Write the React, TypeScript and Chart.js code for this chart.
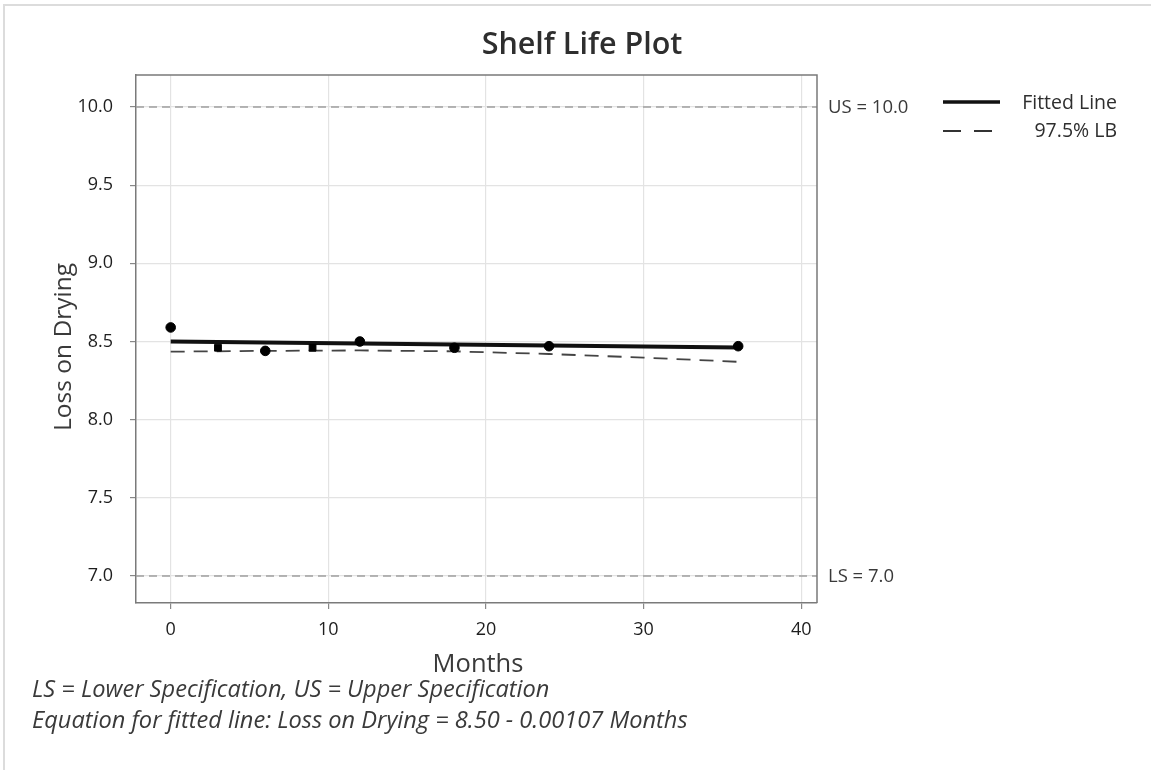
import React, { useEffect, useRef } from "react";
import { Chart, registerables } from "chart.js";

Chart.register(...registerables);

const months = [0, 3, 6, 9, 12, 18, 24, 36];
const lossOnDrying = [8.59, 8.46, 8.44, 8.46, 8.5, 8.46, 8.47, 8.47];
const pointStyles = ["circle", "rect", "circle", "rect", "circle", "circle", "circle", "circle"];
const fitMonths = [0, 36];
const fitValues = [8.5, 8.4615];
const lbMonths = [0, 6, 12, 18, 24, 30, 36];
const lbValues = [8.435, 8.44, 8.443, 8.437, 8.42, 8.397, 8.37];
const upperSpec = 10.0;
const lowerSpec = 7.0;
const xTicks = [0, 10, 20, 30, 40];
const yTicks = [7.0, 7.5, 8.0, 8.5, 9.0, 9.5, 10.0];
const titleText = "Shelf Life Plot";
const xTitle = "Months";
const yTitle = "Loss on Drying";
const legendLabels = ["Fitted Line", "97.5% LB"];
const footnotes = [
  "LS = Lower Specification, US = Upper Specification",
  "Equation for fitted line: Loss on Drying = 8.50 - 0.00107 Months",
];

const FONT = "'Open Sans', 'Noto Sans', sans-serif";

const overlay = {
  id: "overlay",
  afterDraw(chart: any) {
    const ctx = chart.ctx;
    const area = chart.chartArea;
    const y = chart.scales.y;
    ctx.save();
    // frame
    ctx.strokeStyle = "#dcdcdc";
    ctx.lineWidth = 2;
    ctx.beginPath();
    ctx.moveTo(4, 770);
    ctx.lineTo(4, 5);
    ctx.lineTo(1151, 5);
    ctx.stroke();
    // title
    ctx.fillStyle = "#2e2e2e";
    ctx.font = `600 30.5px ${FONT}`;
    ctx.textAlign = "center";
    ctx.textBaseline = "middle";
    ctx.fillText(titleText, 582, 45);
    // axis titles
    ctx.font = `25.5px ${FONT}`;
    ctx.fillStyle = "#3a3a3a";
    ctx.fillText(xTitle, 478, 665);
    ctx.save();
    ctx.translate(64, (area.top + area.bottom) / 2 + 8);
    ctx.rotate(-Math.PI / 2);
    ctx.font = `24.5px ${FONT}`;
    ctx.fillText(yTitle, 0, 0);
    ctx.restore();
    // spec labels
    ctx.font = `18.5px ${FONT}`;
    ctx.fillStyle = "#3a3a3a";
    ctx.textAlign = "left";
    ctx.fillText(`US = ${upperSpec.toFixed(1)}`, 828, y.getPixelForValue(upperSpec) + 1);
    ctx.fillText(`LS = ${lowerSpec.toFixed(1)}`, 828, y.getPixelForValue(lowerSpec) + 1);
    // legend
    ctx.strokeStyle = "#111";
    ctx.lineWidth = 3.5;
    ctx.setLineDash([]);
    ctx.beginPath();
    ctx.moveTo(943, 102);
    ctx.lineTo(1000, 102);
    ctx.stroke();
    ctx.lineWidth = 1.8;
    ctx.strokeStyle = "#333";
    ctx.setLineDash([18, 13]);
    ctx.beginPath();
    ctx.moveTo(943, 131);
    ctx.lineTo(1000, 131);
    ctx.stroke();
    ctx.setLineDash([]);
    ctx.fillStyle = "#2e2e2e";
    ctx.font = `19.5px ${FONT}`;
    ctx.textAlign = "right";
    ctx.fillText(legendLabels[0], 1117, 103);
    ctx.fillText(legendLabels[1], 1117, 131);
    // footnotes
    ctx.font = `italic 23.6px ${FONT}`;
    ctx.fillStyle = "#3a3a3a";
    ctx.textAlign = "left";
    ctx.fillText(footnotes[0], 32, 690);
    ctx.fillText(footnotes[1], 32, 721);
    ctx.restore();
  },
};

export default function App() {
  const ref = useRef<HTMLCanvasElement>(null);
  useEffect(() => {
    if (!ref.current) return;
    const chart = new Chart(ref.current, {
      type: "scatter",
      data: {
        datasets: [
          {
            type: "line",
            label: "US",
            data: [{ x: -2.2, y: upperSpec }, { x: 41, y: upperSpec }],
            borderColor: "#a0a0a0",
            borderWidth: 1.5,
            borderDash: [8, 5],
            pointRadius: 0,
            order: 5,
          },
          {
            type: "line",
            label: "LS",
            data: [{ x: -2.2, y: lowerSpec }, { x: 41, y: lowerSpec }],
            borderColor: "#a0a0a0",
            borderWidth: 1.5,
            borderDash: [8, 5],
            pointRadius: 0,
            order: 5,
          },
          {
            type: "line",
            label: legendLabels[1],
            data: lbMonths.map((m, i) => ({ x: m, y: lbValues[i] })),
            borderColor: "#444",
            borderWidth: 1.8,
            borderDash: [14, 9],
            pointRadius: 0,
            order: 3,
          },
          {
            type: "line",
            label: legendLabels[0],
            data: fitMonths.map((m, i) => ({ x: m, y: fitValues[i] })),
            borderColor: "#111",
            borderWidth: 4,
            pointRadius: 0,
            order: 2,
          },
          {
            type: "scatter",
            label: "Data",
            data: months.map((m, i) => ({ x: m, y: lossOnDrying[i] })),
            backgroundColor: "#000",
            borderColor: "#000",
            pointStyle: pointStyles as any,
            pointRadius: 4.8,
            order: 1,
          },
        ],
      },
      options: {
        responsive: false,
        animation: false,
        layout: { padding: { left: 0, top: 75, right: 334, bottom: 0 } },
        plugins: { legend: { display: false }, tooltip: { enabled: false }, title: { display: false } },
        scales: {
          x: {
            type: "linear",
            min: -2.2,
            max: 41,
            afterBuildTicks: (s: any) => {
              s.ticks = xTicks.map((v) => ({ value: v }));
            },
            afterFit: (s: any) => {
              s.height = 167;
            },
            ticks: {
              font: { family: FONT, size: 18 },
              color: "#1e1e1e",
              padding: 10,
              callback: (v: any) => String(v),
            },
            grid: { color: "#e3e3e3", lineWidth: 1.2, tickLength: 6, tickColor: "#888" },
            border: { color: "#7a7a7a", width: 1.5 },
          },
          y: {
            type: "linear",
            min: 6.827,
            max: 10.205,
            afterBuildTicks: (s: any) => {
              s.ticks = yTicks.map((v) => ({ value: v }));
            },
            afterFit: (s: any) => {
              s.width = 136;
            },
            ticks: {
              font: { family: FONT, size: 18 },
              color: "#1e1e1e",
              padding: 17,
              callback: (v: any) => Number(v).toFixed(1),
            },
            grid: { color: "#e3e3e3", lineWidth: 1.2, tickLength: 6, tickColor: "#888" },
            border: { color: "#7a7a7a", width: 1.5 },
          },
        },
      },
      plugins: [
        overlay,
        {
          id: "rightTopBorder",
          afterDatasetsDraw(chart: any) {
            const { ctx, chartArea: a } = chart;
            ctx.save();
            ctx.strokeStyle = "#7a7a7a";
            ctx.lineWidth = 1.5;
            ctx.beginPath();
            ctx.moveTo(a.left, a.top);
            ctx.lineTo(a.right, a.top);
            ctx.lineTo(a.right, a.bottom);
            ctx.stroke();
            ctx.restore();
          },
        },
      ],
    });
    return () => chart.destroy();
  }, []);
  return (
    <div style={{ position: "absolute", left: 0, top: 0, width: 1151, height: 770, background: "#fff" }}>
      <canvas ref={ref} width={1151} height={770} style={{ display: "block" }} />
    </div>
  );
}
